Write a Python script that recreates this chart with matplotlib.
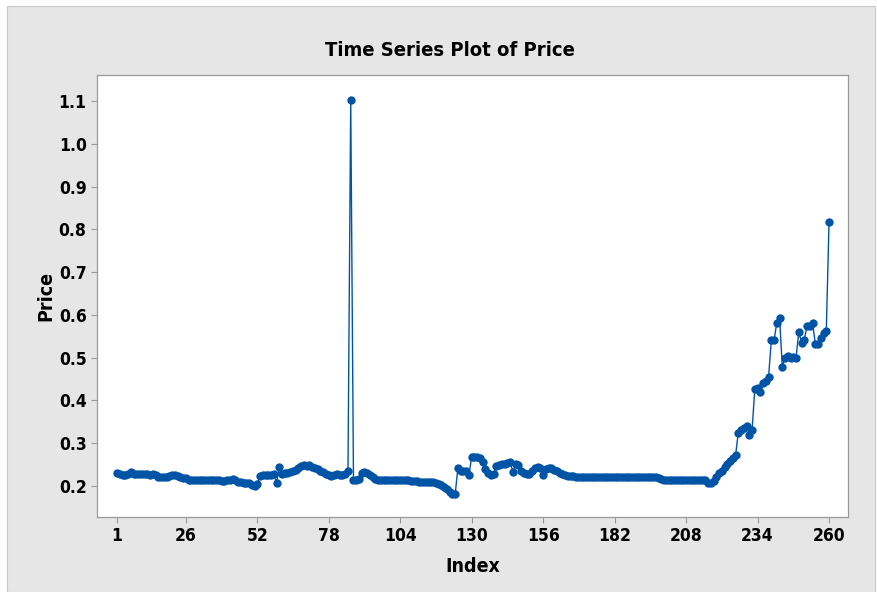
import matplotlib
matplotlib.use("Agg")
import matplotlib.pyplot as plt
from matplotlib.patches import Rectangle
import numpy as np

plt.rcParams.update({
    "font.family": ["DejaVu Sans"],
    "font.stretch": "condensed",
    "font.weight": "bold",
})

# price series (index 1..260)
price = [
    0.231, 0.227, 0.226, 0.226, 0.228, 0.233, 0.229, 0.227, 0.227, 0.228,
    0.227, 0.227, 0.226, 0.227, 0.226, 0.222, 0.221, 0.220, 0.221, 0.224,
    0.226, 0.226, 0.224, 0.220, 0.219, 0.218, 0.215, 0.214, 0.214, 0.214,
    0.214, 0.214, 0.214, 0.214, 0.214, 0.214, 0.213, 0.213, 0.212, 0.211,
    0.213, 0.214, 0.216, 0.213, 0.210, 0.209, 0.208, 0.208, 0.207, 0.203,
    0.201, 0.204, 0.224, 0.225, 0.226, 0.226, 0.226, 0.229, 0.207, 0.244,
    0.229, 0.230, 0.231, 0.233, 0.236, 0.238, 0.241, 0.246, 0.249, 0.247,
    0.249, 0.245, 0.241, 0.239, 0.234, 0.232, 0.228, 0.226, 0.224, 0.226,
    0.228, 0.226, 0.225, 0.228, 0.234, 1.103, 0.215, 0.213, 0.216, 0.230,
    0.232, 0.231, 0.226, 0.220, 0.216, 0.215, 0.214, 0.214, 0.214, 0.214,
    0.214, 0.213, 0.213, 0.213, 0.213, 0.213, 0.213, 0.212, 0.211, 0.211,
    0.210, 0.210, 0.210, 0.210, 0.210, 0.209, 0.208, 0.205, 0.202, 0.198,
    0.193, 0.186, 0.182, 0.181, 0.243, 0.236, 0.234, 0.236, 0.226, 0.268,
    0.269, 0.268, 0.266, 0.257, 0.240, 0.230, 0.226, 0.229, 0.246, 0.249,
    0.251, 0.252, 0.255, 0.257, 0.233, 0.252, 0.250, 0.236, 0.230, 0.228,
    0.227, 0.235, 0.242, 0.244, 0.243, 0.226, 0.240, 0.242, 0.241, 0.238,
    0.234, 0.231, 0.228, 0.225, 0.224, 0.223, 0.223, 0.222, 0.222, 0.222,
    0.222, 0.222, 0.222, 0.222, 0.222, 0.222, 0.222, 0.222, 0.222, 0.222,
    0.222, 0.222, 0.222, 0.222, 0.222, 0.222, 0.222, 0.222, 0.222, 0.222,
    0.222, 0.222, 0.222, 0.222, 0.222, 0.222, 0.222, 0.218, 0.216, 0.214,
    0.214, 0.214, 0.214, 0.214, 0.214, 0.214, 0.214, 0.214, 0.214, 0.214,
    0.214, 0.214, 0.214, 0.214, 0.213, 0.207, 0.206, 0.212, 0.222, 0.230,
    0.236, 0.244, 0.252, 0.258, 0.266, 0.272, 0.325, 0.330, 0.335, 0.340,
    0.320, 0.330, 0.428, 0.430, 0.420, 0.440, 0.446, 0.454, 0.541, 0.541,
    0.582, 0.594, 0.479, 0.500, 0.503, 0.500, 0.501, 0.500, 0.560, 0.535,
    0.542, 0.574, 0.574, 0.582, 0.533, 0.533, 0.547, 0.558, 0.562, 0.817,
]
index = np.arange(1, len(price) + 1)

x_ticks = [1, 26, 52, 78, 104, 130, 156, 182, 208, 234, 260]
y_ticks = [0.2, 0.3, 0.4, 0.5, 0.6, 0.7, 0.8, 0.9, 1.0, 1.1]

BLUE = "#0054A6"

fig = plt.figure(figsize=(8.78, 5.92), dpi=100)
fig.patch.set_facecolor("white")
# grey Minitab-style panel behind the graph
panel = Rectangle((7 / 878, 0), 868 / 878, 586 / 592,
                  transform=fig.transFigure, facecolor="#E6E6E6",
                  edgecolor="#C8C8C8", linewidth=0.8, zorder=-10)
fig.add_artist(panel)

ax = fig.add_axes([97 / 878, 1 - 517 / 592, 751 / 878, 442 / 592])
ax.set_facecolor("white")
ax.set_zorder(1)

ax.plot(index, price, color=BLUE, linewidth=1.0, marker="o",
        markersize=6, markeredgewidth=0, zorder=3)

ax.set_xlim(-6.3, 266.9)
ax.set_ylim(0.1276, 1.161)
ax.set_xticks(x_ticks)
ax.set_yticks(y_ticks)
ax.set_yticklabels([f"{v:.1f}" for v in y_ticks])
ax.tick_params(labelsize=12.5, color="#999999", length=4, width=0.8)

for s in ax.spines.values():
    s.set_color("#999999")
    s.set_linewidth(0.9)

ax.set_xlabel("Index", fontsize=14, fontweight="bold", labelpad=8)
ax.set_ylabel("Price", fontsize=14, fontweight="bold", labelpad=2)
fig.text(450 / 878, 1 - 51 / 592, "Time Series Plot of Price",
         fontsize=14.5, fontweight="bold", ha="center", va="center")

fig.savefig("out.png", dpi=100)
